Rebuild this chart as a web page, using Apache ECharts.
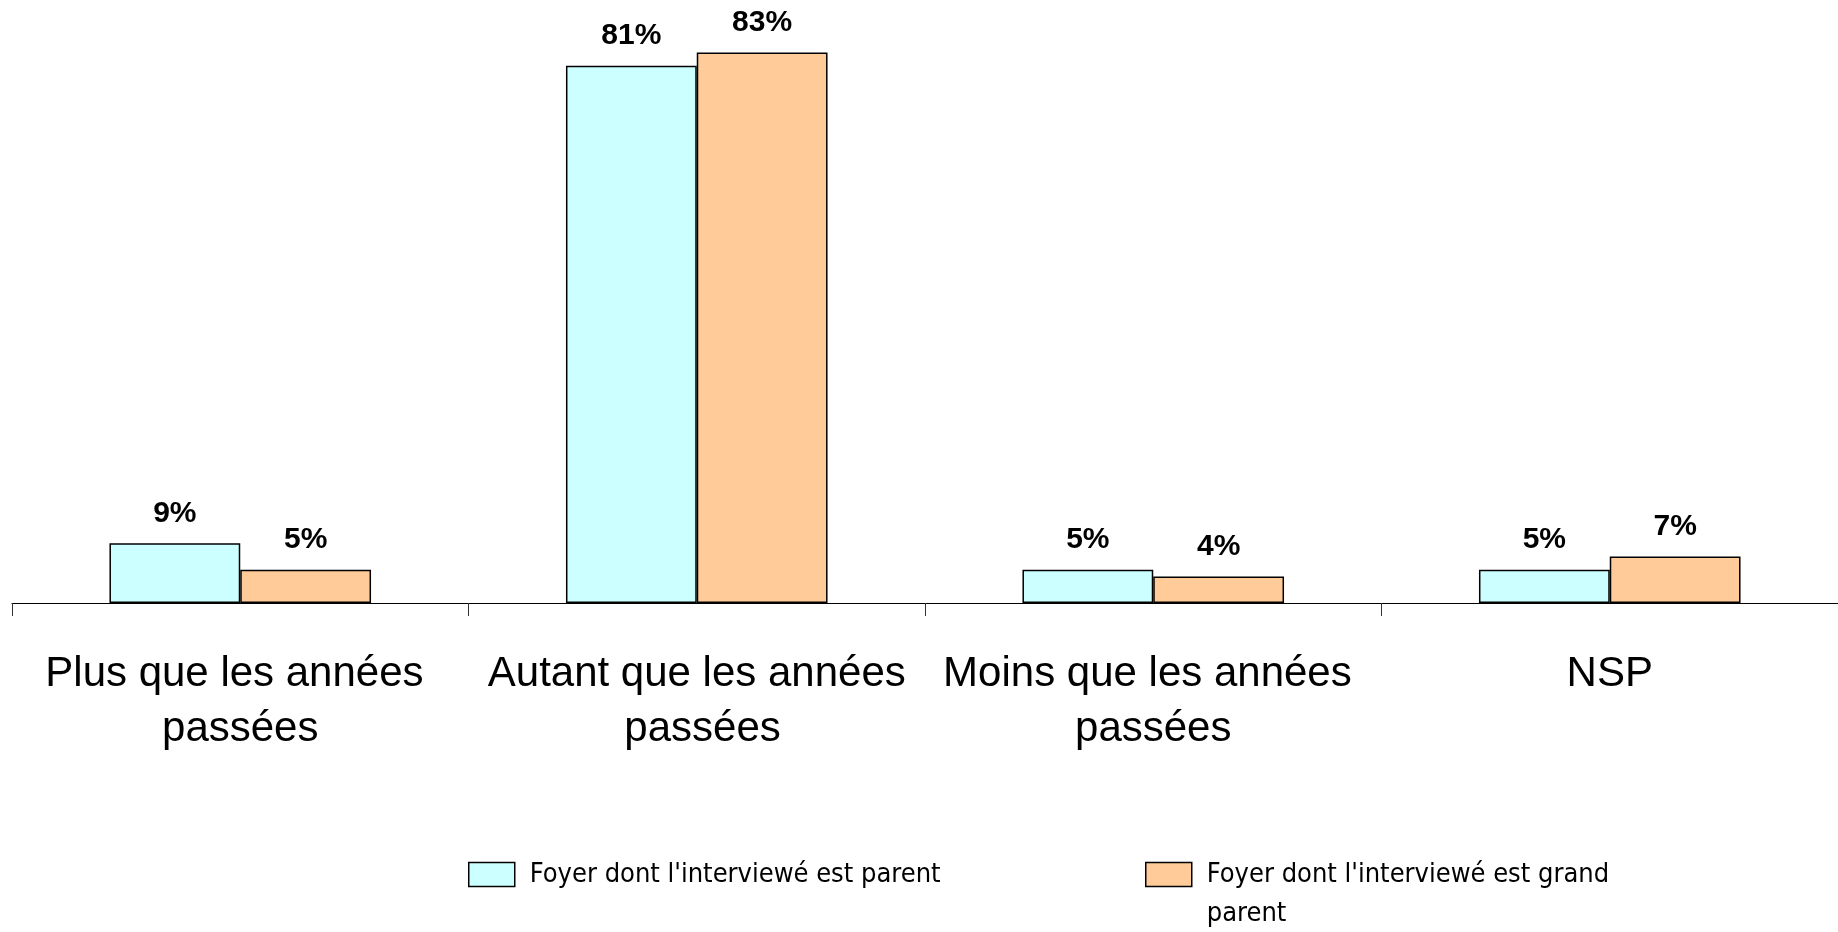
<!DOCTYPE html>
<html>
<head>
<meta charset="utf-8">
<script src="https://cdn.jsdelivr.net/npm/echarts@6/dist/echarts.min.js"></script>
<style>
html,body{margin:0;padding:0;background:#fff;}
#chart{width:1838px;height:932px;}
</style>
</head>
<body>
<div id="chart"></div>
<script>
var categories = ["Plus que les années passées", "Autant que les années passées", "Moins que les années passées", "NSP"];
var seriesNames = ["Foyer dont l'interviewé est parent", "Foyer dont l'interviewé est grand parent"];
var parentValues = [9, 81, 5, 5];
var grandParentValues = [5, 83, 4, 7];

var chart = echarts.init(document.getElementById('chart'));
var labelStyle = {
  show: true,
  position: 'top',
  distance: 15,
  formatter: '{c}%',
  fontFamily: 'Liberation Sans, Arial, sans-serif',
  fontWeight: 'bold',
  fontSize: 30,
  color: '#000'
};
var legendText = {
  fontFamily: '"Liberation Sans Narrow", "DejaVu Sans Condensed", sans-serif',
  fontSize: 27,
  lineHeight: 33,
  color: '#000',
  padding: [0, 0, 0, 10]
};
chart.setOption({
  animation: false,
  backgroundColor: '#fff',
  grid: {left: 12, right: -3, top: 6, bottom: 329, containLabel: false},
  xAxis: {
    type: 'category',
    data: categories,
    axisLine: {show: true, lineStyle: {color: '#000', width: 1}},
    axisTick: {show: true, length: 13, alignWithLabel: false, lineStyle: {color: '#333', width: 1}},
    axisLabel: {
      interval: 0,
      margin: 44,
      width: 445,
      overflow: 'break',
      fontFamily: 'Liberation Sans, Arial, sans-serif',
      fontSize: 42,
      lineHeight: 55,
      color: '#000'
    }
  },
  yAxis: {
    type: 'value',
    min: 0,
    max: 90,
    show: false,
    splitLine: {show: false}
  },
  legend: [
    {
      data: [seriesNames[0]],
      icon: 'rect',
      padding: 0,
      left: 468,
      top: 858,
      itemWidth: 46,
      itemHeight: 24,
      itemStyle: {borderColor: '#000', borderWidth: 1.5},
      textStyle: legendText
    },
    {
      data: [seriesNames[1]],
      icon: 'rect',
      padding: 0,
      left: 1145,
      top: 816,
      itemWidth: 46,
      itemHeight: 24,
      itemStyle: {borderColor: '#000', borderWidth: 1.5},
      formatter: function (name) { return '\n' + name.replace(/ (\S+)$/, '\n$1'); },
      textStyle: Object.assign({}, legendText, {lineHeight: 39})
    }
  ],
  series: [
    {
      name: seriesNames[0],
      type: 'bar',
      data: parentValues,
      barGap: '0%',
      barCategoryGap: '42.7%',
      itemStyle: {color: '#CCFFFF', borderColor: '#000', borderWidth: 1.5},
      label: labelStyle
    },
    {
      name: seriesNames[1],
      type: 'bar',
      data: grandParentValues,
      barGap: '0%',
      barCategoryGap: '42.7%',
      itemStyle: {color: '#FFCC99', borderColor: '#000', borderWidth: 1.5},
      label: labelStyle
    }
  ]
});
</script>
</body>
</html>
